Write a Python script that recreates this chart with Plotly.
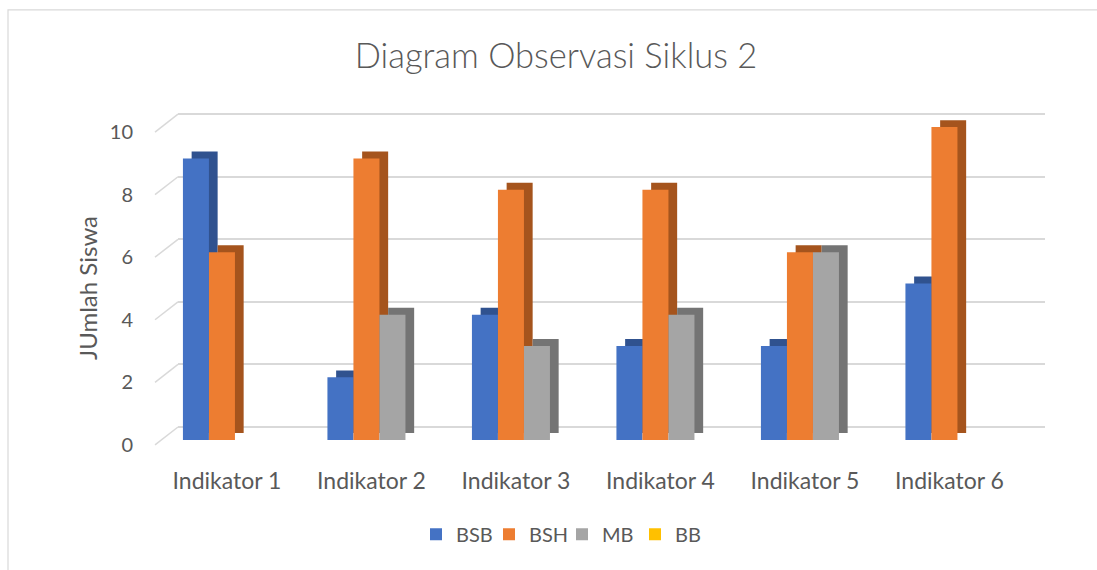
import plotly.graph_objects as go

# ---------------- data ----------------
categories = ["Indikator 1", "Indikator 2", "Indikator 3", "Indikator 4", "Indikator 5", "Indikator 6"]
bsb = [9, 2, 4, 3, 3, 5]
bsh = [6, 9, 8, 8, 6, 10]
mb = [0, 4, 3, 4, 6, 0]
bb = [0, 0, 0, 0, 0, 0]
series_names = ["BSB", "BSH", "MB", "BB"]
series_values = [bsb, bsh, mb, bb]
y_ticks = [0, 2, 4, 6, 8, 10]

# ---------------- style / geometry ----------------
face_colors = ["#4472C4", "#ED7D31", "#A5A5A5", "#FFC000"]
side_colors = ["#30528F", "#A5541D", "#747474", "#B88A00"]
TEXT = "#595959"
GRID = "#D9D9D9"
FONT = "Lato, Carlito, 'Noto Sans', sans-serif"

W, H = 1097, 570
PPU = 31.5                 # pixels per unit on value axis
YMIN, YMAX = -0.8, 10.6
BACK_X0, BACK_X1, BACK_Y0 = 178, 1045, 430      # back wall (gridlines)
FRONT_X0, FRONT_Y0 = 155, 448                   # front edge of floor
BAR_X0, BAR_X1, BAR_Y0 = 162.7, 1029.7, 443     # front face of bars
DX, DY = 8.7, 7.0                               # bar depth


def ydom(zero_px):
    bottom = zero_px - YMIN * PPU
    top = zero_px - YMAX * PPU
    return [1 - bottom / H, 1 - top / H]


def xdom(x0, x1):
    return [x0 / W, x1 / W]


fig = go.Figure()

# subplot 1: back wall (gridlines only)
fig.add_trace(go.Scatter(x=[None], y=[None], xaxis="x", yaxis="y",
                         showlegend=False, hoverinfo="skip"))

# subplot 2: depth layer (side/top faces)
for name, vals, col in zip(series_names, series_values, side_colors):
    fig.add_trace(go.Bar(x=categories, y=vals, name=name, marker_color=col,
                         marker_line_width=0, xaxis="x2", yaxis="y2",
                         showlegend=False, hoverinfo="skip"))

# subplot 3: front faces
for name, vals, col in zip(series_names, series_values, face_colors):
    fig.add_trace(go.Bar(x=categories, y=vals, name=name, marker_color=col,
                         marker_line_width=0, xaxis="x3", yaxis="y3"))

hidden = dict(showgrid=False, zeroline=False, showline=False, showticklabels=False, ticks="")
cat_range = [-0.5, len(categories) - 0.5]

fig.update_layout(
    width=W, height=H,
    paper_bgcolor="white", plot_bgcolor="rgba(0,0,0,0)",
    margin=dict(l=0, r=0, t=0, b=0),
    barmode="group", bargap=0.28, bargroupgap=0,
    font=dict(family=FONT, color=TEXT),
    title=dict(text="Diagram Observasi Siklus 2", x=556 / W, xanchor="center",
               y=1 - 56 / H, yanchor="middle", yref="container",
               font=dict(family=FONT, size=34.5, color=TEXT, weight=300)),
    xaxis=dict(domain=xdom(BACK_X0, BACK_X1), range=[0, 1], anchor="y", **hidden),
    yaxis=dict(domain=ydom(BACK_Y0), range=[YMIN, YMAX], anchor="x",
               tickvals=y_ticks, showgrid=True, gridcolor=GRID, gridwidth=1.5,
               zeroline=False, showline=False, ticks="",
               showticklabels=True, ticklabelshift=int(FRONT_Y0 - BACK_Y0),
               ticklabelstandoff=44,
               tickfont=dict(family=FONT, size=20, color=TEXT)),
    xaxis2=dict(domain=xdom(BAR_X0 + DX, BAR_X1 + DX), range=cat_range, anchor="y2", **hidden),
    yaxis2=dict(domain=ydom(BAR_Y0 - DY), range=[YMIN, YMAX], anchor="x2", **hidden),
    xaxis3=dict(domain=xdom(BAR_X0, BAR_X1), range=cat_range, anchor="y3",
                showgrid=False, zeroline=False, showline=False, ticks="",
                showticklabels=True, ticklabelshift=-int(round(BAR_X0 - FRONT_X0)),
                ticklabelstandoff=0,
                tickfont=dict(family=FONT, size=23, color=TEXT)),
    yaxis3=dict(domain=ydom(BAR_Y0), range=[YMIN, YMAX], anchor="x3", **hidden),
    legend=dict(orientation="h", x=416 / W, xanchor="left", y=1 - 538 / H, yanchor="middle",
                font=dict(family=FONT, size=20, color=TEXT), traceorder="normal",
                entrywidth=28, entrywidthmode="pixels", itemclick=False),
    showlegend=True,
)

# floor-to-wall diagonals at each tick
for v in y_ticks:
    fig.add_shape(type="line", xref="paper", yref="y",
                  x0=FRONT_X0 / W, y0=v - (FRONT_Y0 - BACK_Y0) / PPU,
                  x1=BACK_X0 / W, y1=v,
                  line=dict(color=GRID, width=1.5), layer="below")

# chart border
fig.add_shape(type="rect", xref="paper", yref="paper",
              x0=8 / W, y0=1 - 10 / H, x1=1.05, y1=-0.05,
              line=dict(color=GRID, width=1.2), fillcolor="rgba(0,0,0,0)", layer="below")

# y-axis title
fig.add_annotation(text="JUmlah Siswa", xref="paper", yref="paper",
                   x=88 / W, y=1 - 290 / H, xanchor="center", yanchor="middle",
                   textangle=-90, showarrow=False,
                   font=dict(family=FONT, size=24, color=TEXT))

fig.write_html("out.html", config={"displayModeBar": False},
               post_script="document.body.style.margin='0px';")
